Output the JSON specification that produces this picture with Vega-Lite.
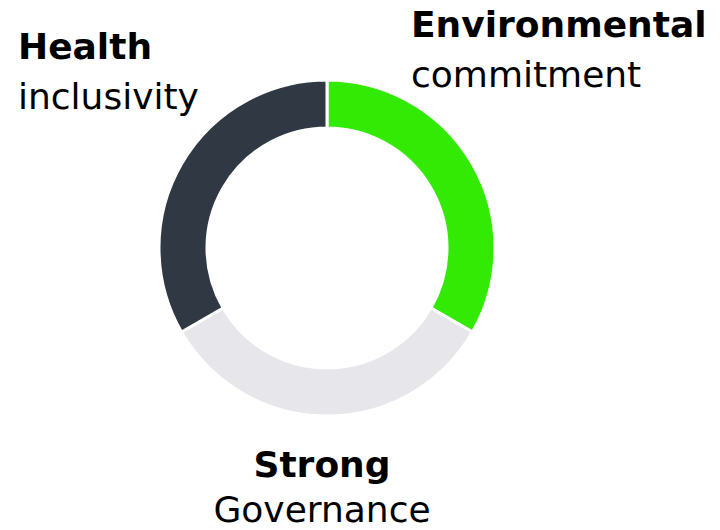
{
  "$schema": "https://vega.github.io/schema/vega-lite/v6.json",
  "width": 654,
  "height": 496,
  "padding": {"left": 0, "top": 0, "right": 66, "bottom": 34},
  "autosize": {"type": "none"},
  "background": "white",
  "config": {"view": {"stroke": null}},
  "datasets": {
    "pillars": [
      {"pillar": "Environmental commitment", "share": 1, "order": 1},
      {"pillar": "Strong Governance", "share": 1, "order": 2},
      {"pillar": "Health inclusivity", "share": 1, "order": 3}
    ],
    "labels": [
      {"text": "Environmental", "weight": "bold", "anchor": "left", "lx": 411, "ly": 37},
      {"text": "commitment", "weight": "normal", "anchor": "left", "lx": 411, "ly": 87},
      {"text": "Health", "weight": "bold", "anchor": "left", "lx": 18, "ly": 59},
      {"text": "inclusivity", "weight": "normal", "anchor": "left", "lx": 18, "ly": 109},
      {"text": "Strong", "weight": "bold", "anchor": "center", "lx": 322, "ly": 477},
      {"text": "Governance", "weight": "normal", "anchor": "center", "lx": 322, "ly": 522}
    ]
  },
  "layer": [
    {
      "data": {"name": "pillars"},
      "mark": {"type": "arc", "outerRadius": 168, "innerRadius": 120, "stroke": "white", "strokeWidth": 3},
      "encoding": {
        "theta": {"field": "share", "type": "quantitative", "stack": true},
        "order": {"field": "order", "type": "quantitative"},
        "color": {
          "field": "pillar",
          "type": "nominal",
          "scale": {
            "domain": ["Environmental commitment", "Strong Governance", "Health inclusivity"],
            "range": ["#33ea05", "#e6e6eb", "#303844"]
          },
          "legend": null
        }
      }
    },
    {
      "data": {"name": "labels"},
      "transform": [{"filter": "datum.weight == 'bold' && datum.anchor == 'left'"}],
      "mark": {"type": "text", "font": "DejaVu Sans", "fontSize": 36, "fontWeight": "bold", "align": "left", "baseline": "alphabetic", "color": "black"},
      "encoding": {
        "x": {"field": "lx", "type": "quantitative", "scale": {"domain": [0, 654], "range": [0, 654]}, "axis": null},
        "y": {"field": "ly", "type": "quantitative", "scale": {"domain": [0, 496], "range": [0, 496]}, "axis": null},
        "text": {"field": "text"}
      }
    },
    {
      "data": {"name": "labels"},
      "transform": [{"filter": "datum.weight == 'normal' && datum.anchor == 'left'"}],
      "mark": {"type": "text", "font": "DejaVu Sans", "fontSize": 36, "fontWeight": "normal", "align": "left", "baseline": "alphabetic", "color": "black"},
      "encoding": {
        "x": {"field": "lx", "type": "quantitative", "scale": {"domain": [0, 654], "range": [0, 654]}, "axis": null},
        "y": {"field": "ly", "type": "quantitative", "scale": {"domain": [0, 496], "range": [0, 496]}, "axis": null},
        "text": {"field": "text"}
      }
    },
    {
      "data": {"name": "labels"},
      "transform": [{"filter": "datum.weight == 'bold' && datum.anchor == 'center'"}],
      "mark": {"type": "text", "font": "DejaVu Sans", "fontSize": 36, "fontWeight": "bold", "align": "center", "baseline": "alphabetic", "color": "black"},
      "encoding": {
        "x": {"field": "lx", "type": "quantitative", "scale": {"domain": [0, 654], "range": [0, 654]}, "axis": null},
        "y": {"field": "ly", "type": "quantitative", "scale": {"domain": [0, 496], "range": [0, 496]}, "axis": null},
        "text": {"field": "text"}
      }
    },
    {
      "data": {"name": "labels"},
      "transform": [{"filter": "datum.weight == 'normal' && datum.anchor == 'center'"}],
      "mark": {"type": "text", "font": "DejaVu Sans", "fontSize": 36, "fontWeight": "normal", "align": "center", "baseline": "alphabetic", "color": "black"},
      "encoding": {
        "x": {"field": "lx", "type": "quantitative", "scale": {"domain": [0, 654], "range": [0, 654]}, "axis": null},
        "y": {"field": "ly", "type": "quantitative", "scale": {"domain": [0, 496], "range": [0, 496]}, "axis": null},
        "text": {"field": "text"}
      }
    }
  ],
  "resolve": {"scale": {"x": "shared", "y": "shared"}}
}
